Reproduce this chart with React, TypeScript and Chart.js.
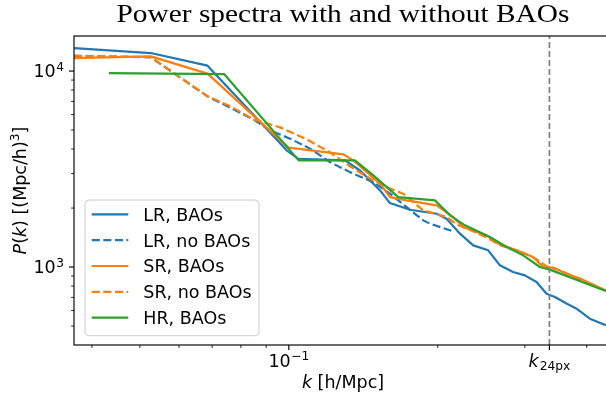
import React, { useEffect, useRef } from "react";
import { Chart, registerables } from "chart.js";

Chart.register(...registerables);

// ---------- data ----------
const LABELS = ["LR, BAOs", "LR, no BAOs", "SR, BAOs", "SR, no BAOs", "HR, BAOs"];
const COLORS = ["#1f77b4", "#1f77b4", "#ff7f0e", "#ff7f0e", "#2ca02c"];
const DASHED = [false, true, false, true, false];

const K_LR_BAO = [0.0368, 0.0526, 0.0685, 0.099, 0.1044, 0.1299, 0.1393, 0.1529, 0.1601, 0.1757, 0.199, 0.2084, 0.2218, 0.2359, 0.2529, 0.2671, 0.284, 0.3, 0.3167, 0.3319, 0.345, 0.3642, 0.3816, 0.4059, 0.4374];
const P_LR_BAO = [13100, 12360, 10660, 3940, 3570, 3500, 3110, 2460, 2120, 1960, 1870, 1765, 1480, 1290, 1217, 1020, 943, 907, 838, 731, 703, 651, 613, 545, 504];

const K_LR_NOBAO = [0.0368, 0.0526, 0.0685, 0.085, 0.0916, 0.1006, 0.1104, 0.1211, 0.1329, 0.1482, 0.1601, 0.173, 0.1869, 0.1928, 0.2149];
const P_LR_NOBAO = [11955, 11750, 7430, 5650, 4980, 4520, 4020, 3430, 3050, 2710, 2370, 2020, 1730, 1665, 1521];

const K_SR_BAO = [0.0368, 0.0526, 0.0685, 0.0998, 0.1289, 0.135, 0.1529, 0.1601, 0.173, 0.199, 0.2149, 0.2252, 0.2397, 0.251, 0.2649, 0.2886, 0.3117, 0.3266, 0.3423, 0.3642, 0.3876, 0.4374];
const P_SR_BAO = [11650, 11885, 9700, 4066, 3758, 3502, 2663, 2275, 2189, 2064, 1799, 1600, 1509, 1451, 1317, 1217, 1124, 1000, 993, 925, 873, 760];

const K_SR_NOBAO = [0.0368, 0.0526, 0.0685, 0.0763, 0.085, 0.0888, 0.096, 0.1087, 0.1211, 0.1329, 0.1459, 0.1601, 0.1703, 0.1869, 0.2084, 0.2184, 0.2288, 0.251, 0.2671, 0.2931, 0.3167, 0.3319, 0.3531, 0.3876, 0.4374];
const P_SR_NOBAO = [11985, 11785, 7430, 6600, 5650, 5490, 5160, 4480, 3850, 3265, 2825, 2512, 2368, 1947, 1799, 1651, 1570, 1418, 1291, 1202, 1095, 1008, 962, 866, 752];

const K_HR_BAO = [0.0433, 0.074, 0.1047, 0.136, 0.1482, 0.1664, 0.1974, 0.2117, 0.227, 0.2549, 0.2755, 0.2976, 0.3217, 0.3371, 0.4374];
const P_HR_BAO = [9767, 9654, 3502, 3502, 2936, 2275, 2189, 1836, 1632, 1423, 1265, 1148, 1000, 970, 754];

const K_SERIES = [K_LR_BAO, K_LR_NOBAO, K_SR_BAO, K_SR_NOBAO, K_HR_BAO];
const P_SERIES = [P_LR_BAO, P_LR_NOBAO, P_SR_BAO, P_SR_NOBAO, P_HR_BAO];

const K_24PX = 0.3363;
const X_MIN = 0.0368;
const X_MAX = 0.45;
const Y_MIN = 400;
const Y_MAX = 15100;

const X_MAJOR_TICKS = [0.1];
const X_MAJOR_EXP = ["\u22121"];
const X_MINOR_TICKS = [0.04, 0.05, 0.06, 0.07, 0.08, 0.09, 0.2, 0.3, 0.4];
const Y_MAJOR_TICKS = [1000, 10000];
const Y_MAJOR_EXP = ["3", "4"];
const Y_MINOR_TICKS = [500, 600, 700, 800, 900, 2000, 3000, 4000, 5000, 6000, 7000, 8000, 9000];

const TITLE = "Power spectra with and without BAOs";

// ---------- styles ----------
const FONT_MAIN = '17.5px "DejaVu Sans"';
const FONT_ITALIC = 'italic 17.5px "DejaVu Sans"';
const FONT_SMALL = '12.25px "DejaVu Sans"';

function drawPow(ctx: CanvasRenderingContext2D, base: string, exp: string, x: number, y: number, align: string) {
  ctx.font = FONT_MAIN;
  const wb = ctx.measureText(base).width;
  ctx.font = FONT_SMALL;
  const we = ctx.measureText(exp).width;
  const total = wb + we + 0.5;
  const sx = align === "right" ? x - total : x - total / 2;
  ctx.font = FONT_MAIN;
  ctx.fillText(base, sx, y);
  ctx.font = FONT_SMALL;
  ctx.fillText(exp, sx + wb + 0.5, y - 6.7);
}

const decorPlugin = {
  id: "decor",
  afterDraw(chart: any) {
    const ctx: CanvasRenderingContext2D = chart.ctx;
    const { left, right, top, bottom } = chart.chartArea;
    const xs = chart.scales.x;
    const ys = chart.scales.y;
    ctx.save();
    ctx.setLineDash([]);
    ctx.fillStyle = "#000";
    ctx.strokeStyle = "#000";
    ctx.textAlign = "left";
    ctx.textBaseline = "alphabetic";

    // spines
    ctx.lineWidth = 1.15;
    ctx.strokeRect(left, top, right - left, bottom - top);

    // ticks
    const tick = (x1: number, y1: number, x2: number, y2: number, w: number) => {
      ctx.lineWidth = w;
      ctx.beginPath();
      ctx.moveTo(x1, y1);
      ctx.lineTo(x2, y2);
      ctx.stroke();
    };
    [...X_MAJOR_TICKS, K_24PX].forEach((v) => {
      const px = xs.getPixelForValue(v);
      tick(px, bottom, px, bottom + 5, 1.15);
    });
    X_MINOR_TICKS.forEach((v) => {
      const px = xs.getPixelForValue(v);
      tick(px, bottom, px, bottom + 2.9, 0.85);
    });
    Y_MAJOR_TICKS.forEach((v) => {
      const py = ys.getPixelForValue(v);
      tick(left - 5, py, left, py, 1.15);
    });
    Y_MINOR_TICKS.forEach((v) => {
      const py = ys.getPixelForValue(v);
      tick(left - 2.9, py, left, py, 0.85);
    });

    // tick labels
    Y_MAJOR_TICKS.forEach((v, i) => {
      const py = ys.getPixelForValue(v);
      drawPow(ctx, "10", Y_MAJOR_EXP[i], left - 10, py + 6.3, "right");
    });
    X_MAJOR_TICKS.forEach((v, i) => {
      const px = xs.getPixelForValue(v);
      drawPow(ctx, "10", X_MAJOR_EXP[i], px, bottom + 21.7, "center");
    });
    {
      const px = xs.getPixelForValue(K_24PX);
      ctx.font = FONT_ITALIC;
      const wk = ctx.measureText("k").width;
      ctx.font = FONT_SMALL;
      const ws = ctx.measureText("24px").width;
      const sx = px - (wk + ws + 1) / 2;
      ctx.font = FONT_ITALIC;
      ctx.fillText("k", sx, bottom + 21.7);
      ctx.font = FONT_SMALL;
      ctx.fillText("24px", sx + wk + 1, bottom + 25);
    }

    // x axis label
    {
      ctx.font = FONT_ITALIC;
      const w1 = ctx.measureText("k").width;
      ctx.font = FONT_MAIN;
      const w2 = ctx.measureText(" [h/Mpc]").width;
      const cx = (left + right) / 2;
      const sx = cx - (w1 + w2) / 2;
      ctx.font = FONT_ITALIC;
      ctx.fillText("k", sx, 388);
      ctx.font = FONT_MAIN;
      ctx.fillText(" [h/Mpc]", sx + w1, 388);
    }

    // y axis label (rotated)
    {
      const segs: [string, string, number][] = [
        ["P", FONT_ITALIC, 0],
        ["(", FONT_MAIN, 0],
        ["k", FONT_ITALIC, 0],
        [")", FONT_MAIN, 0],
        [" [(Mpc/h)", FONT_MAIN, 0],
        ["3", FONT_SMALL, 6.7],
        ["]", FONT_MAIN, 0],
      ];
      let total = 0;
      const widths = segs.map(([t, f]) => {
        ctx.font = f;
        const w = ctx.measureText(t).width;
        total += w;
        return w;
      });
      ctx.save();
      ctx.translate(26, (top + bottom) / 2);
      ctx.rotate(-Math.PI / 2);
      let sx = -total / 2;
      segs.forEach(([t, f, dy], i) => {
        ctx.font = f;
        ctx.fillText(t, sx, -dy);
        sx += widths[i];
      });
      ctx.restore();
    }

    // title
    {
      ctx.font = '26px "Liberation Serif"';
      const w = ctx.measureText(TITLE).width;
      const target = 453;
      const hs = target / w;
      ctx.save();
      ctx.translate((left + right) / 2, 22);
      ctx.scale(hs, 1);
      ctx.textAlign = "center";
      ctx.fillText(TITLE, 0, 0);
      ctx.restore();
    }

    // legend
    {
      const bx = 85, by = 200, bw = 174, bh = 135.7;
      ctx.beginPath();
      (ctx as any).roundRect(bx, by, bw, bh, 4);
      ctx.fillStyle = "rgba(255,255,255,0.8)";
      ctx.fill();
      ctx.strokeStyle = "#cccccc";
      ctx.lineWidth = 1;
      ctx.stroke();
      const ds = chart.data.datasets;
      for (let i = 0; i < LABELS.length; i++) {
        const cy = 214.3 + i * 25.85;
        ctx.strokeStyle = ds[i].borderColor;
        ctx.lineWidth = ds[i].borderWidth;
        ctx.setLineDash(ds[i].borderDash || []);
        ctx.beginPath();
        ctx.moveTo(91.7, cy);
        ctx.lineTo(128.3, cy);
        ctx.stroke();
        ctx.setLineDash([]);
        ctx.fillStyle = "#000";
        ctx.font = FONT_MAIN;
        ctx.fillText(ds[i].label, 143.3, cy + 6.4);
      }
    }
    ctx.restore();
  },
};

export default function App() {
  const ref = useRef<HTMLCanvasElement | null>(null);

  useEffect(() => {
    document.body.style.margin = "0";
    document.body.style.overflow = "hidden";
    const canvas = ref.current;
    if (!canvas) return;
    const order = [5, 4, 3, 2, 1];
    const datasets: any[] = K_SERIES.map((ks, i) => ({
      label: LABELS[i],
      data: ks.map((k, j) => ({ x: k, y: P_SERIES[i][j] })),
      borderColor: COLORS[i],
      backgroundColor: COLORS[i],
      borderWidth: 2.2,
      borderDash: DASHED[i] ? [8.1, 3.5] : [],
      borderJoinStyle: "round",
      borderCapStyle: "butt",
      pointRadius: 0,
      tension: 0,
      fill: false,
      order: order[i],
    }));
    datasets.push({
      label: "k24px",
      data: [
        { x: K_24PX, y: Y_MIN },
        { x: K_24PX, y: Y_MAX },
      ],
      borderColor: "#808080",
      borderWidth: 1.7,
      borderDash: [6, 3],
      pointRadius: 0,
      fill: false,
      order: 0,
    });

    const chart = new Chart(canvas, {
      type: "line",
      data: { datasets },
      options: {
        animation: false,
        responsive: false,
        devicePixelRatio: 1,
        layout: { padding: { top: 36, right: 1, left: 0, bottom: 0 } },
        plugins: {
          legend: { display: false },
          title: { display: false },
          tooltip: { enabled: false },
        },
        scales: {
          x: {
            type: "logarithmic",
            min: X_MIN,
            max: X_MAX,
            ticks: { display: false },
            grid: { display: false },
            border: { display: false },
            afterFit: (s: any) => {
              s.height = 48;
            },
          },
          y: {
            type: "logarithmic",
            min: Y_MIN,
            max: Y_MAX,
            ticks: { display: false },
            grid: { display: false },
            border: { display: false },
            afterFit: (s: any) => {
              s.width = 74;
            },
          },
        },
      } as any,
      plugins: [decorPlugin],
    });
    return () => chart.destroy();
  }, []);

  return (
    <div style={{ width: 606, height: 393, overflow: "hidden", position: "relative", background: "#fff" }}>
      <canvas ref={ref} width={613} height={393} style={{ width: 613, height: 393, display: "block" }} />
    </div>
  );
}
